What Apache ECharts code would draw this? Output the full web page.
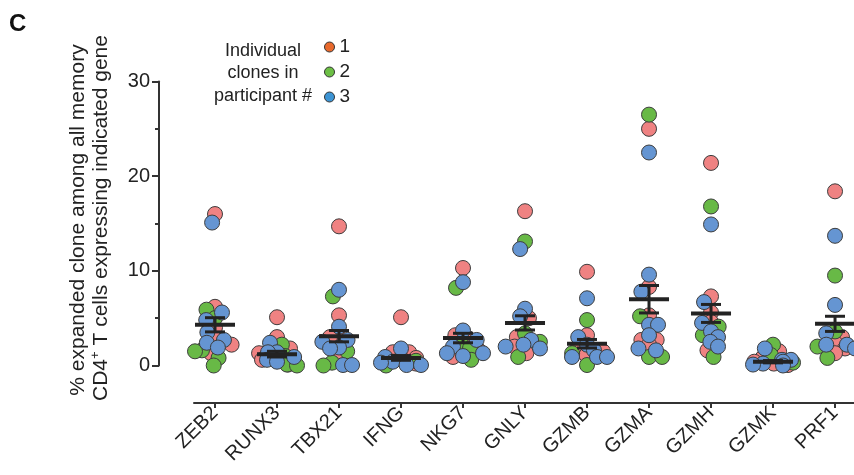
<!DOCTYPE html>
<html><head><meta charset="utf-8">
<script src="https://cdn.jsdelivr.net/npm/echarts@6/dist/echarts.min.js"></script>
<style>html,body{margin:0;padding:0;background:#fff}#c{width:854px;height:475px}</style>
</head><body><div id="c"></div>
<script>
// ---- data ----
const genes = ['ZEB2','RUNX3','TBX21','IFNG','NKG7','GNLY','GZMB','GZMA','GZMH','GZMK','PRF1'];
const participants = ['1','2','3'];
// per gene values for each participant's clones (% of memory CD4+ T cells)
const participant1 = [
  [16.0, 6.2, 4.0, 2.8, 1.3, 2.2],
  [5.1, 3.0, 1.3, 0.6, 0.1, 1.8],
  [14.7, 5.3, 3.0, 3.0, 0.9],
  [5.1, 1.4, 1.4, 0.8, 0.8, 0.2],
  [10.3, 2.9, 0.9, 1.6, 3.2],
  [16.3, 5.0, 1.3, 3.0, 2.0],
  [9.9, 3.2, 2.0, 1.1, 1.5],
  [25.0, 8.3, 5.3, 2.7, 2.7, 2.2],
  [21.4, 7.3, 4.6, 1.6, 5.6],
  [1.5, 0.4, 0.05, 0.8, 0.2],
  [18.4, 3.0, 1.8, 1.3, 2.4]
];
const participant2 = [
  [5.9, 5.0, 1.6, 0.8, 0.0, 1.5],
  [2.2, 0.0, 0.1, 1.0],
  [7.3, 0.3, 0.0, 1.5],
  [0.0, 0.5],
  [8.2, 0.6, 1.8, 2.2],
  [13.1, 3.4, 0.9, 2.5],
  [4.8, 0.05, 1.3],
  [26.5, 5.2, 0.9, 0.9],
  [16.8, 4.1, 3.2, 0.9],
  [2.2, 1.1, 0.3],
  [9.5, 3.6, 0.8, 2.0]
];
const participant3 = [
  [15.1, 5.6, 4.8, 3.5, 2.7, 1.9, 2.4],
  [2.4, 1.4, 1.4, 0.4, 0.6, 0.9],
  [8.0, 4.1, 2.7, 2.5, 1.8, 1.9, 0.05, 0.05],
  [1.8, 0.05, 0.05, 0.4, 0.9, 0.3],
  [8.8, 3.7, 2.7, 2.0, 1.3, 1.3, 1.0],
  [12.3, 6.0, 5.2, 2.7, 2.0, 2.2, 1.8],
  [7.1, 3.0, 0.9, 0.9, 0.9, 1.6, 2.2],
  [22.5, 9.6, 7.8, 4.3, 4.3, 3.2, 1.8, 1.6],
  [14.9, 6.7, 3.6, 3.0, 2.5, 2.0, 4.5],
  [1.8, 0.6, 0.4, 0.6, 0.0, 0.2, 0.1],
  [13.7, 6.4, 3.4, 2.2, 2.2, 1.8]
];
const meanValues = [4.3, 1.2, 3.1, 0.8, 2.9, 4.5, 2.3, 7.0, 5.5, 0.4, 4.4];
const semValues  = [0.75, 0.3, 0.6, 0.25, 0.5, 0.75, 0.45, 1.45, 0.95, 0.12, 0.8];
const yTicks = [0, 10, 20, 30];

// ---- styling ----
const FONT = 'Liberation Sans, Arial, sans-serif';
const pointColors = ['#ef8282', '#68b946', '#6595d2'];
const legendColors = ['#e8692c', '#6cbf45', '#3c94d4'];
const allData = [participant1, participant2, participant3];
const X_MIN = -0.3387, X_MAX = 10.306;
const geneIdx = genes.map((g, i) => i);

const chart = echarts.init(document.getElementById('c'), null, {renderer: 'canvas'});

function scatterSeries(dataPerP) {
  return participants.map((p, k) => ({
    name: p,
    type: 'scatter',
    xAxisIndex: 0, yAxisIndex: 0,
    symbol: 'circle',
    symbolSize: 15,
    itemStyle: {color: pointColors[k], borderColor: '#3d3d3d', borderWidth: 1, opacity: 1},
    emphasis: {disabled: true},
    clip: false,
    z: 2,
    data: dataPerP[k]
  }));
}

const initialData = allData.map(pd => {
  const out = [];
  pd.forEach((vals, gi) => vals.forEach(v => out.push([gi, v])));
  return out;
});

const errSeries = {
  type: 'custom',
  xAxisIndex: 0, yAxisIndex: 0,
  z: 5,
  clip: false,
  silent: true,
  data: genes.map((g, i) => [i, meanValues[i], semValues[i]]),
  renderItem: function (params, api) {
    const x = api.value(0), m = api.value(1), s = api.value(2);
    const c = api.coord([x, m]);
    const t = api.coord([x, m + s]);
    const b = api.coord([x, Math.max(0, m - s)]);
    const hw = 20, cw = 10, col = '#232323';
    return {type: 'group', children: [
      {type: 'line', shape: {x1: t[0], y1: t[1], x2: b[0], y2: b[1]}, style: {stroke: col, lineWidth: 3}},
      {type: 'line', shape: {x1: t[0] - cw, y1: t[1], x2: t[0] + cw, y2: t[1]}, style: {stroke: col, lineWidth: 3}},
      {type: 'line', shape: {x1: b[0] - cw, y1: b[1], x2: b[0] + cw, y2: b[1]}, style: {stroke: col, lineWidth: 3}},
      {type: 'line', shape: {x1: c[0] - hw, y1: c[1], x2: c[0] + hw, y2: c[1]}, style: {stroke: col, lineWidth: 4}}
    ]};
  }
};

const axisColor = '#333';
const option = {
  animation: false,
  backgroundColor: '#fff',
  textStyle: {fontFamily: FONT},
  grid: [
    {left: 194, right: 0, top: 81.5, bottom: 109.5},
    {left: 194, right: 0, top: 400, height: 3}
  ],
  xAxis: [
    {type: 'value', gridIndex: 0, min: X_MIN, max: X_MAX, show: false},
    {type: 'value', gridIndex: 1, min: X_MIN, max: X_MAX, position: 'bottom',
      axisLine: {show: true, onZero: false, lineStyle: {color: axisColor, width: 2}},
      axisTick: {show: true, customValues: geneIdx, length: 5, lineStyle: {color: axisColor, width: 2}},
      axisLabel: {show: true, customValues: geneIdx, rotate: 45, margin: 7, padding: [10, 0, 0, 0], fontSize: 20, color: '#222', fontFamily: FONT,
        formatter: v => genes[Math.round(v)] || ''},
      splitLine: {show: false}}
  ],
  yAxis: [
    {type: 'value', gridIndex: 0, min: 0, max: 30, interval: 10, offset: 35,
      axisLine: {show: true, onZero: false, lineStyle: {color: axisColor, width: 2}},
      axisTick: {show: true, length: 7, lineStyle: {color: axisColor, width: 2}},
      minorTick: {show: true, splitNumber: 2, length: 4, lineStyle: {color: axisColor, width: 2}},
      axisLabel: {fontSize: 20, color: '#222', margin: 9, fontFamily: FONT, customValues: yTicks},
      splitLine: {show: false}, minorSplitLine: {show: false}},
    {type: 'value', gridIndex: 1, show: false}
  ],
  legend: {
    show: true, orient: 'vertical', left: 324, top: 37, padding: 0,
    selectedMode: false, icon: 'circle', itemWidth: 10, itemHeight: 10, itemGap: 5,
    textStyle: {fontSize: 19, color: '#222', fontFamily: FONT, lineHeight: 20},
    data: participants.map((p, k) => ({name: p, itemStyle: {color: legendColors[k], borderColor: '#333', borderWidth: 1}}))
  },
  graphic: [
    {type: 'text', left: 9, top: 12, style: {text: 'C', fontSize: 24, fontWeight: 'bold', fill: '#111', fontFamily: FONT}},
    {type: 'text', x: 263, y: 51, style: {text: 'Individual', align: 'center', verticalAlign: 'middle', fontSize: 18, fill: '#222', fontFamily: FONT}},
    {type: 'text', x: 263, y: 73, style: {text: 'clones in', align: 'center', verticalAlign: 'middle', fontSize: 18, fill: '#222', fontFamily: FONT}},
    {type: 'text', x: 263, y: 96, style: {text: 'participant #', align: 'center', verticalAlign: 'middle', fontSize: 18, fill: '#222', fontFamily: FONT}},
    {type: 'text', x: 78, y: 220, rotation: Math.PI / 2,
      style: {text: '% expanded clone among all memory', align: 'center', verticalAlign: 'middle', fontSize: 21, fill: '#222', fontFamily: FONT}},
    {type: 'text', x: 101, y: 218, rotation: Math.PI / 2,
      style: {text: '{a|CD4}{b|+}{a| T cells expressing indicated gene}', align: 'center', verticalAlign: 'middle',
        rich: {a: {fontSize: 21, fill: '#222', fontFamily: FONT, lineHeight: 24},
               b: {fontSize: 13, fill: '#222', fontFamily: FONT, verticalAlign: 'top', lineHeight: 14}}}}
  ],
  series: scatterSeries(initialData).concat([errSeries])
};
chart.setOption(option);

// ---- beeswarm layout in pixel space using the chart's own scales ----
const pxPerX = chart.convertToPixel({xAxisIndex: 0}, 1) - chart.convertToPixel({xAxisIndex: 0}, 0);
const pxPerY = chart.convertToPixel({yAxisIndex: 0}, 0) - chart.convertToPixel({yAxisIndex: 0}, 1);
const D = 9, MAXW = 20;
const swarmData = participants.map(() => []);
genes.forEach((g, gi) => {
  const pts = [];
  allData.forEach((pd, k) => pd[gi].forEach(v => pts.push({k, v, y: v * pxPerY})));
  pts.sort((a, b) => b.v - a.v);
  const placed = [];
  pts.forEach(pt => {
    const ivs = [];
    placed.forEach(q => {
      const dy = Math.abs(q.y - pt.y);
      if (dy < D) { const w = Math.sqrt(D * D - dy * dy); ivs.push([q.x - w, q.x + w]); }
    });
    const cands = [0];
    ivs.forEach(iv => cands.push(iv[0], iv[1]));
    cands.sort((a, b) => Math.abs(a) - Math.abs(b) || a - b);
    let xx = 0;
    for (const c of cands) {
      if (ivs.every(iv => c <= iv[0] + 1e-6 || c >= iv[1] - 1e-6)) { xx = c; break; }
    }
    if (Math.abs(xx) > MAXW) xx = Math.sign(xx) * (MAXW - (placed.length % 3) * 5);
    pt.x = xx;
    placed.push(pt);
  });
  placed.forEach(pt => swarmData[pt.k].push([gi + pt.x / pxPerX, pt.v]));
});
chart.setOption({series: scatterSeries(swarmData).concat([errSeries])});
</script>
</body></html>
